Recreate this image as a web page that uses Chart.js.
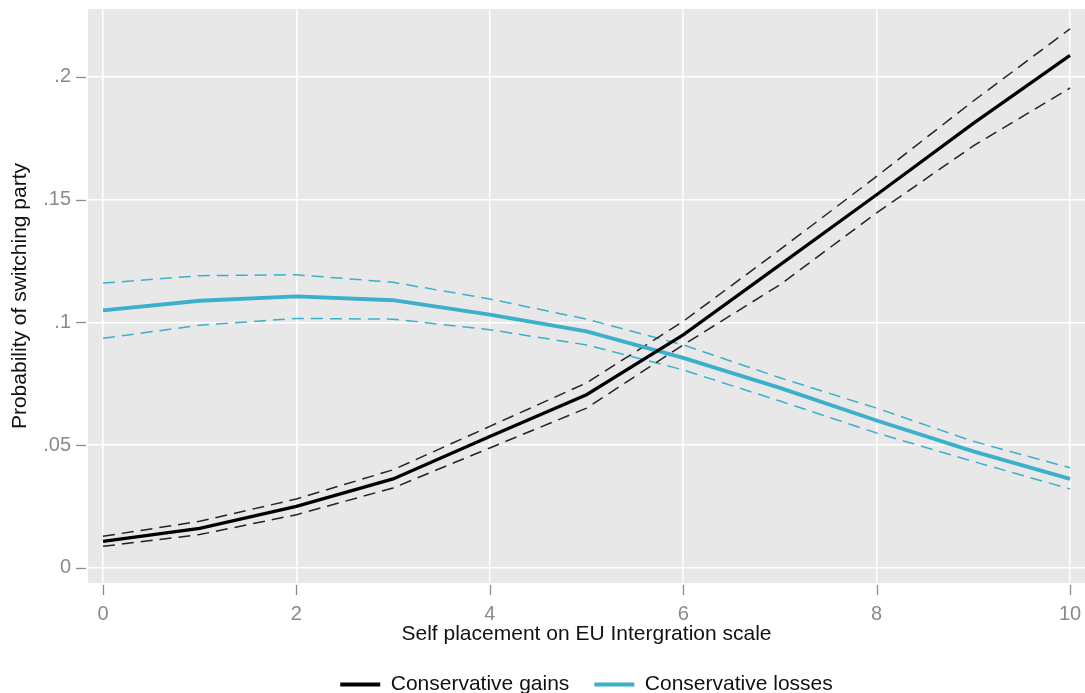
<!DOCTYPE html>
<html>
<head>
<meta charset="utf-8">
<script src="https://cdn.jsdelivr.net/npm/chart.js@4.4.0/dist/chart.umd.min.js"></script>
<style>
html,body{margin:0;padding:0;background:#fff;}
#wrap{width:1085px;height:693px;}
</style>
</head>
<body>
<div id="wrap"><canvas id="c" width="1085" height="693"></canvas></div>
<script>
const xValues = [0,1,2,3,4,5,6,7,8,9,10];
const gains   = [0.0107,0.0160,0.0250,0.0362,0.0535,0.0705,0.0949,0.1234,0.1520,0.1811,0.2088];
const gainsHi = [0.0128,0.0189,0.0280,0.0399,0.0576,0.0753,0.1004,0.1296,0.1595,0.1902,0.2196];
const gainsLo = [0.0087,0.0135,0.0216,0.0325,0.0488,0.0650,0.0908,0.1153,0.1446,0.1719,0.1955];
const losses   = [0.1049,0.1088,0.1106,0.1090,0.1031,0.0963,0.0855,0.0733,0.0600,0.0474,0.0362];
const lossesHi = [0.1160,0.1190,0.1194,0.1163,0.1095,0.1013,0.0908,0.0774,0.0650,0.0515,0.0407];
const lossesLo = [0.0935,0.0988,0.1016,0.1013,0.0970,0.0908,0.0806,0.0679,0.0549,0.0433,0.0321];
const xTicks = [0,2,4,6,8,10];
const yTicks = [0,0.05,0.1,0.15,0.2];
const yTickLabels = ["0",".05",".1",".15",".2"];
const seriesNames = ["Conservative gains","Conservative losses"];

const BLACK = '#000000';
const BLUE = '#3AB0CB';
const FONT = "'Liberation Sans', Arial, sans-serif";

function pts(arr){ return xValues.map((x,i)=>({x:x,y:arr[i]})); }

const bgPlugin = {
  id:'bg',
  beforeDraw(chart){
    const {ctx, chartArea:a} = chart;
    ctx.save();
    ctx.fillStyle = '#E8E8E8';
    ctx.fillRect(a.left, a.top, a.right-a.left, a.bottom-a.top);
    ctx.restore();
  },
  afterDraw(chart){
    const {ctx, chartArea:a} = chart;
    const xs = chart.scales.x, ys = chart.scales.y;
    ctx.save();
    ctx.strokeStyle = '#8c8c8c';
    ctx.lineWidth = 1.3;
    xTicks.forEach(v=>{
      const px = Math.round(xs.getPixelForValue(v))+0.5;
      ctx.beginPath(); ctx.moveTo(px, a.bottom+2); ctx.lineTo(px, a.bottom+12); ctx.stroke();
    });
    yTicks.forEach(v=>{
      const py = Math.round(ys.getPixelForValue(v))+0.5;
      ctx.beginPath(); ctx.moveTo(a.left-12, py); ctx.lineTo(a.left-2, py); ctx.stroke();
    });
    ctx.restore();
  }
};

new Chart(document.getElementById('c'), {
  type:'line',
  data:{
    datasets:[
      {label:seriesNames[0], data:pts(gains), borderColor:BLACK, backgroundColor:BLACK, borderWidth:3.2, pointRadius:0, tension:0, order:1},
      {label:seriesNames[1], data:pts(losses), borderColor:BLUE, backgroundColor:BLUE, borderWidth:3.8, pointRadius:0, tension:0, order:2},
      {label:'gainsHi', data:pts(gainsHi), borderColor:'#222', borderWidth:1.5, borderDash:[12,7], pointRadius:0, order:3},
      {label:'gainsLo', data:pts(gainsLo), borderColor:'#222', borderWidth:1.5, borderDash:[12,7], pointRadius:0, order:3},
      {label:'lossesHi', data:pts(lossesHi), borderColor:BLUE, borderWidth:1.5, borderDash:[12,7], pointRadius:0, order:4},
      {label:'lossesLo', data:pts(lossesLo), borderColor:BLUE, borderWidth:1.5, borderDash:[12,7], pointRadius:0, order:4}
    ]
  },
  options:{
    responsive:false,
    animation:false,
    layout:{padding:{left:0,right:0,top:9,bottom:-12}},
    plugins:{
      tooltip:{enabled:false},
      legend:{
        position:'bottom',
        fullSize:false,
        labels:{
          font:{family:FONT,size:21},
          color:'#111',
          boxWidth:40,
          boxHeight:4,
          padding:25,
          generateLabels(chart){
            return seriesNames.map((n,i)=>({
              text:n,
              fillStyle:i===0?BLACK:BLUE,
              strokeStyle:i===0?BLACK:BLUE,
              lineWidth:0,
              datasetIndex:i,
              fontColor:'#111'
            }));
          }
        }
      }
    },
    scales:{
      x:{
        type:'linear',
        min:-0.155, max:10.155,
        afterBuildTicks(s){ s.ticks = xTicks.map(v=>({value:v})); },
        afterFit(s){ s.height = 66; s.paddingLeft = 0; s.paddingRight = 0; },
        ticks:{font:{family:FONT,size:20}, color:'#8a8a8a', padding:19, maxRotation:0,
               callback:(v)=>String(v)},
        grid:{color:'#ffffff', lineWidth:1.5, drawTicks:false},
        border:{display:false},
        title:{display:true, text:'Self placement on EU Intergration scale', font:{family:FONT,size:21}, color:'#111', padding:{top:0,bottom:2}}
      },
      y:{
        min:-0.00624, max:0.2277,
        afterBuildTicks(s){ s.ticks = yTicks.map(v=>({value:v})); },
        afterFit(s){ s.width = 88; s.paddingTop = 0; s.paddingBottom = 0; },
        ticks:{font:{family:FONT,size:20}, color:'#8a8a8a', padding:17,
               callback:(v)=>{ const i = yTicks.findIndex(t=>Math.abs(t-v)<1e-9); return i>=0?yTickLabels[i]:''; }},
        grid:{color:'#ffffff', lineWidth:1.5, drawTicks:false},
        border:{display:false},
        title:{display:true, text:'Probability of switching party', font:{family:FONT,size:21}, color:'#111', padding:{top:8,bottom:0}}
      }
    }
  },
  plugins:[bgPlugin]
});
</script>
</body>
</html>
